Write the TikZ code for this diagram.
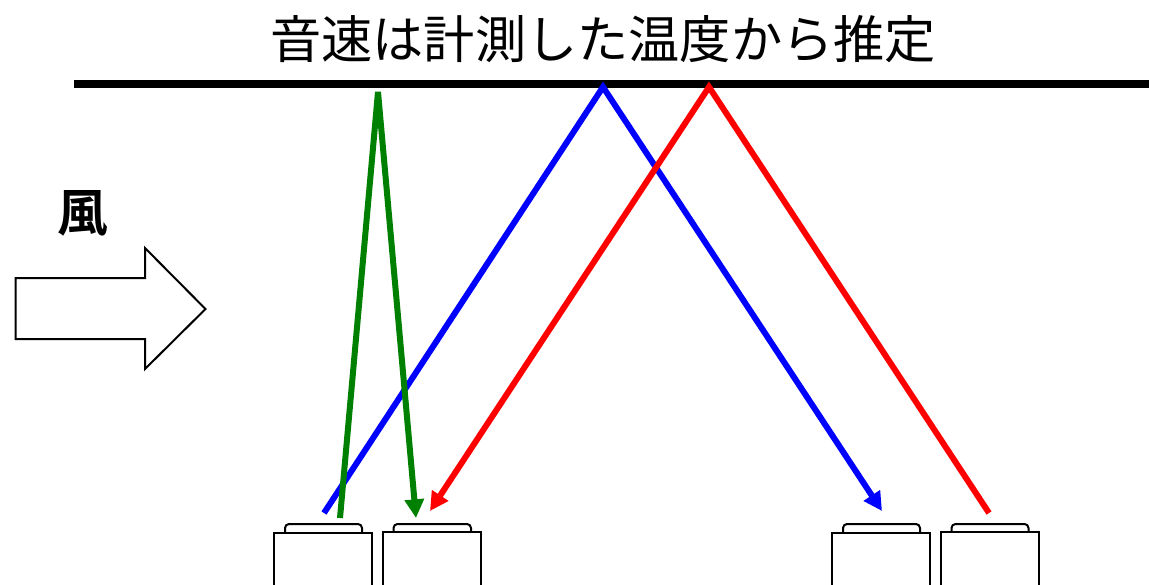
\documentclass[tikz,border=0pt]{standalone}
\usepackage{fontspec}
\newfontfamily\cjk{Noto Sans CJK JP}
\newfontfamily\cjkb{Noto Sans CJK JP Bold}
\usetikzlibrary{arrows.meta}
\tikzset{
  x=0.75pt,y=-0.75pt,
  outline/.style={draw=black,line width=1.5pt,fill=white,line join=miter},
  beam/.style={line width=4.5pt,line join=miter,line cap=butt},
  tipped/.style={-{Triangle[length=14pt,width=14pt]}},
}
\begin{document}
\begin{tikzpicture}
\useasboundingbox (0,0) rectangle (1149,585);
% wall
\coordinate (wallL) at (74,84);
\coordinate (wallR) at (1149,84);
\draw[line width=6.5pt] (wallL) -- (wallR);
% title
\node[inner sep=0pt,font=\cjk\fontsize{38.4pt}{40pt}\selectfont] (title) at (603,39) {音速は計測した温度から推定};
% wind
\node[inner sep=0pt,font=\cjkb\fontsize{38pt}{40pt}\selectfont] (wind) at (83,213) {風};
\draw[outline] (15.5,278) -- (145,278) -- (145,248) -- (205.5,309) -- (145,369) -- (145,339) -- (15.5,339) -- cycle;
% sensors
\foreach \n/\xa/\xb/\ya/\xc/\xd in {s1/274/372/533/285/362, s2/382.5/480.5/532/393.5/471, s3/832/930/533/843/920, s4/940.5/1038.5/532/951.5/1028.5}{
  \draw[outline,rounded corners=3pt] (\xc,\ya) -- (\xc,524) -- (\xd,524) -- (\xd,\ya);
  \draw[outline] (\xa,590) -- (\xa,\ya) -- (\xb,\ya) -- (\xb,590);
}
% beam points
\coordinate (bs) at (324,513);
\coordinate (bm) at (603,87);
\coordinate (be) at (882,511);
\coordinate (rs) at (989,513);
\coordinate (rm) at (709,87);
\coordinate (re) at (430,511);
\coordinate (gs) at (340,518);
\coordinate (gm) at (378,92);
\coordinate (ge) at (416,518);
\draw[beam,blue,tipped] (bs) -- (bm) -- (be);
\draw[beam,red,tipped] (rs) -- (rm) -- (re);
\draw[beam,green!50!black,tipped] (gs) -- (gm) -- (ge);
\end{tikzpicture}
\end{document}
